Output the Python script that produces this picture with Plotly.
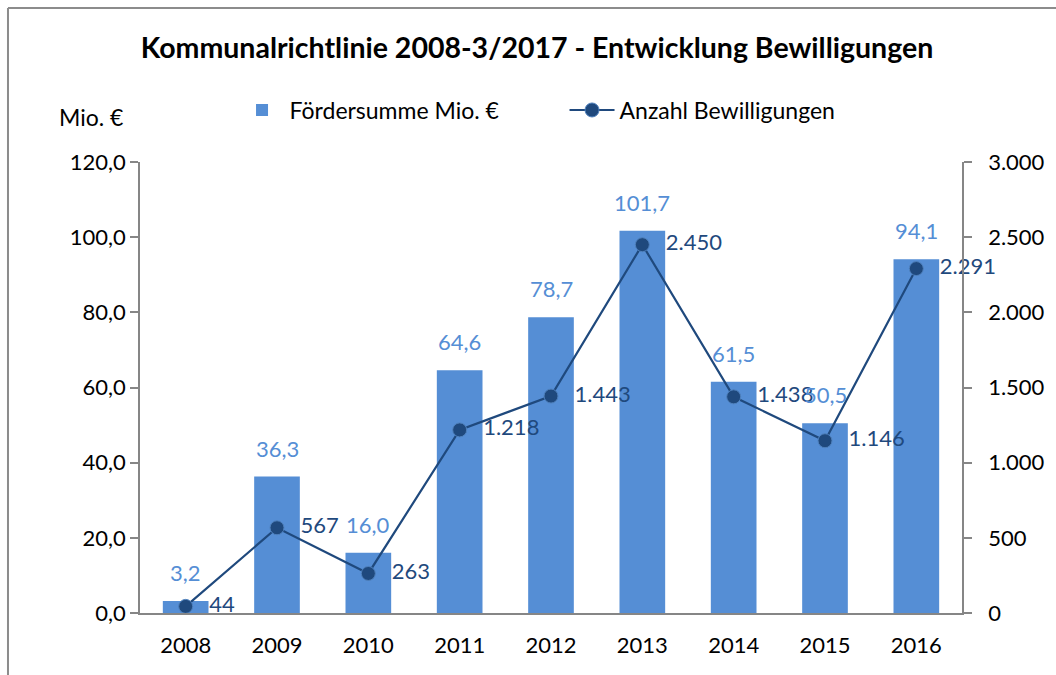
import plotly.graph_objects as go

years = ["2008", "2009", "2010", "2011", "2012", "2013", "2014", "2015", "2016"]
foerdersumme = [3.2, 36.3, 16.0, 64.6, 78.7, 101.7, 61.5, 50.5, 94.1]
bewilligungen = [44, 567, 263, 1218, 1443, 2450, 1438, 1146, 2291]
left_ticks = [0, 20, 40, 60, 80, 100, 120]
right_ticks = [0, 500, 1000, 1500, 2000, 2500, 3000]

FONT = "Lato"
BAR_COLOR = "#558ED5"
LINE_COLOR = "#1F497D"
AXIS_COLOR = "#868686"

# one slot per year along the x axis
pos = list(range(len(years)))

fig = go.Figure()

fig.add_trace(go.Bar(
    x=pos, y=foerdersumme, name="Fördersumme Mio. €",
    marker=dict(color=BAR_COLOR, line=dict(width=0)),
    width=0.5,
))

fig.add_trace(go.Scatter(
    x=pos, y=bewilligungen, name="Anzahl Bewilligungen", yaxis="y2",
    mode="lines+markers+text",
    line=dict(color=LINE_COLOR, width=2.2),
    marker=dict(size=14, color=LINE_COLOR, line=dict(color="#4F81BD", width=1)),
    texttemplate="\u2002\u2009%{y:,}", textposition="middle right",
    textfont=dict(family=FONT, size=22, color=LINE_COLOR),
    cliponaxis=False,
))

# value labels above the bars
for p, val in zip(pos, foerdersumme):
    fig.add_annotation(
        x=p, y=val, xref="x", yref="y",
        text=f"{val:.1f}".replace(".", ","),
        showarrow=False, yanchor="bottom", yshift=13,
        font=dict(family=FONT, size=22, color=BAR_COLOR),
    )

fig.update_layout(
    width=1056, height=675,
    margin=dict(l=140, r=94, t=162, b=62),
    paper_bgcolor="white", plot_bgcolor="white",
    separators=",.",
    font=dict(family=FONT, size=22, color="black"),
    title=dict(text="<b>Kommunalrichtlinie 2008-3/2017 - Entwicklung Bewilligungen</b>",
               x=0.5085, xanchor="center", y=0.929, yanchor="middle",
               font=dict(family=FONT, size=28.5, color="black")),
    showlegend=True,
    legend=dict(orientation="h", x=0.115, xanchor="left", y=0.837, yref="container",
                yanchor="middle", font=dict(family=FONT, size=23, color="black"),
                itemwidth=45, entrywidth=270, traceorder="normal",
                bgcolor="rgba(0,0,0,0)"),
    xaxis=dict(range=[-0.5, len(years) - 0.5], tickvals=pos, ticktext=years,
               showline=True, linecolor=AXIS_COLOR, linewidth=1.5,
               ticks="", ticklabelstandoff=12,
               tickfont=dict(family=FONT, size=22, color="black"),
               showgrid=False, zeroline=False),
    yaxis=dict(range=[0, 120], tickvals=left_ticks, tickformat=",.1f",
               showline=True, linecolor=AXIS_COLOR, linewidth=1.5,
               ticks="outside", ticklen=8, tickcolor=AXIS_COLOR, tickwidth=1.5,
               showgrid=False, zeroline=False,
               tickfont=dict(family=FONT, size=22, color="black")),
    yaxis2=dict(range=[0, 3000], tickvals=right_ticks, tickformat=",d",
                overlaying="y", side="right",
                showline=True, linecolor=AXIS_COLOR, linewidth=1.5,
                ticks="outside", ticklen=8, tickcolor=AXIS_COLOR, tickwidth=1.5,
                ticklabelstandoff=12,
                showgrid=False, zeroline=False,
                tickfont=dict(family=FONT, size=22, color="black")),
)

fig.add_annotation(text="Mio. €", xref="paper", yref="paper", x=-0.018, y=1.1,
                   xanchor="right", yanchor="middle", showarrow=False,
                   font=dict(family=FONT, size=23, color="black"))

# chart frame (left and top edges)
frame = dict(color="#8c8c8c", width=2)
fig.add_shape(type="line", xref="paper", yref="paper",
              x0=-0.1606, x1=-0.1606, y0=-0.2, y1=1.3415, line=frame)
fig.add_shape(type="line", xref="paper", yref="paper",
              x0=-0.1606, x1=1.2, y0=1.3415, y1=1.3415, line=frame)

fig.write_html("out.html")
